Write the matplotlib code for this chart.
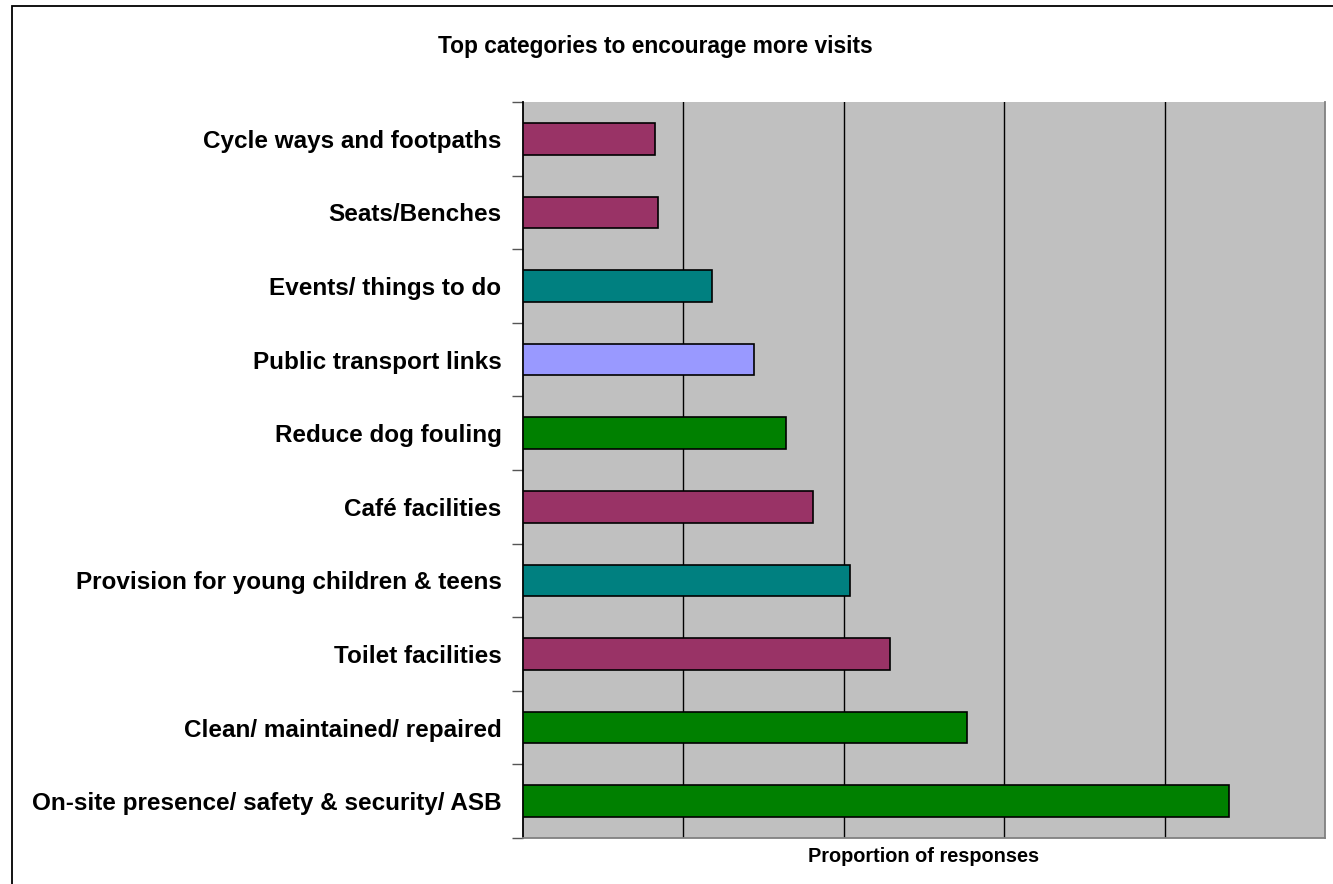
import numpy as np
import matplotlib.pyplot as plt
from matplotlib.patches import Rectangle

# Categories listed top to bottom as in the chart
categories = ['Cycle ways and footpaths', 'Seats/Benches', 'Events/ things to do',
              'Public transport links', 'Reduce dog fouling', 'Café facilities',
              'Provision for young children & teens', 'Toilet facilities',
              'Clean/ maintained/ repaired', 'On-site presence/ safety & security/ ASB']
values = [0.82, 0.84, 1.18, 1.44, 1.64, 1.81, 2.04, 2.29, 2.77, 4.40]
bar_colors = ['#993366', '#993366', '#008080', '#9999FF', '#008000', '#993366',
              '#008080', '#993366', '#008000', '#008000']

plt.rcParams['font.family'] = ['Liberation Sans', 'DejaVu Sans']

fig = plt.figure(figsize=(13.33, 8.84), dpi=100)
# outer chart frame (runs off right and bottom edges)
fig.patches.append(Rectangle((12 / 1333, -0.05), 1.1, 1 - 5.5 / 884 + 0.05,
                             transform=fig.transFigure, fill=False,
                             edgecolor='black', linewidth=1.3))

ax = fig.add_axes([523 / 1333, 1 - 838 / 884, 802 / 1333, 736 / 884])
ax.set_facecolor('#C0C0C0')

n = len(categories)
ypos = np.arange(n)[::-1]
ax.barh(ypos, values, height=0.43, color=bar_colors, edgecolor='black',
        linewidth=1.2, zorder=3)

ax.set_xlim(0, 5)
ax.set_ylim(-0.5, n - 0.5)
ax.set_xticks([1, 2, 3, 4])
ax.tick_params(axis='x', length=0, labelbottom=False)
ax.grid(axis='x', color='black', linewidth=1, zorder=1)
ax.set_axisbelow(True)

ax.set_yticks(np.arange(n + 1) - 0.5)
ax.set_yticklabels([])
ax.set_yticks(ypos, minor=True)
ax.set_yticklabels(categories, minor=True, fontsize=17.5, fontweight='bold')
ax.tick_params(axis='y', which='minor', length=0, pad=15.5)
ax.tick_params(axis='y', which='major', length=8, width=1, color='#555555')

ax.spines['top'].set_visible(False)
ax.spines['left'].set_color('black')
ax.spines['bottom'].set_color('#808080')
ax.spines['right'].set_color('#808080')
for s in ['left', 'bottom', 'right']:
    ax.spines[s].set_linewidth(1.3)

fig.text(924 / 1333, 1 - 856 / 884, 'Proportion of responses',
         ha='center', va='center', fontsize=14.3, fontweight='bold')
fig.text(655 / 1333, 1 - 47 / 884, 'Top categories to encourage more visits',
         ha='center', va='center', fontsize=16.4, fontweight='bold')

fig.savefig('out.png', dpi=100)
